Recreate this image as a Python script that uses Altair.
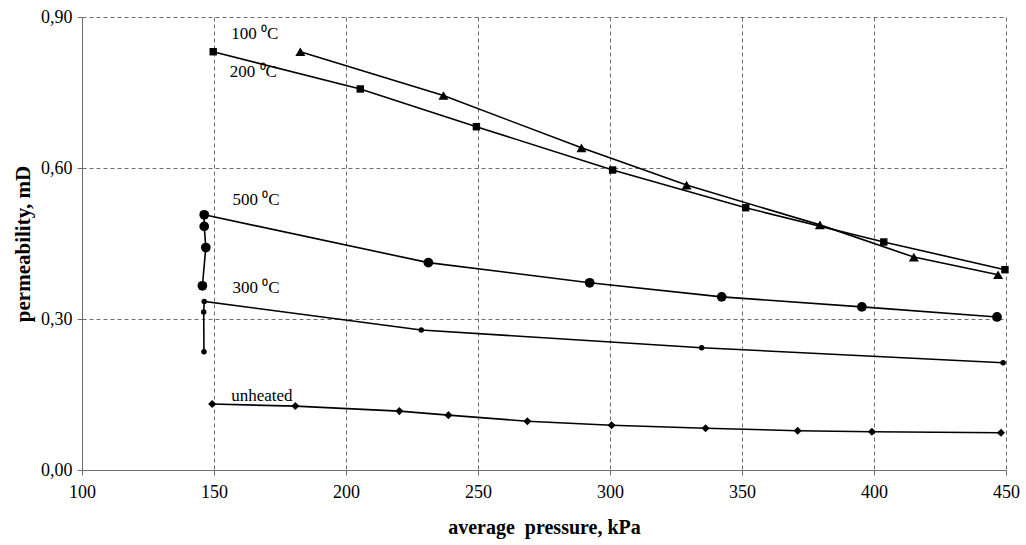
import altair as alt
import pandas as pd

# ---- data ----
s100_x = [182.7, 236.9, 289.2, 329.0, 379.5, 415.1, 447.0]
s100_y = [0.831, 0.744, 0.640, 0.566, 0.487, 0.423, 0.388]

s200_x = [149.7, 205.4, 249.4, 301.0, 351.4, 403.7, 449.6]
s200_y = [0.831, 0.757, 0.682, 0.596, 0.521, 0.453, 0.398]

s500_x = [145.6, 146.9, 146.3, 146.3, 231.2, 292.3, 342.3, 395.4, 446.6]
s500_y = [0.366, 0.442, 0.484, 0.507, 0.412, 0.372, 0.344, 0.324, 0.304]

s300_x = [146.2, 146.1, 146.3, 228.5, 334.7, 448.9]
s300_y = [0.235, 0.314, 0.335, 0.278, 0.243, 0.213]

unh_x = [149.3, 180.8, 220.2, 238.8, 268.7, 300.6, 336.2, 371.1, 399.2, 448.1]
unh_y = [0.131, 0.127, 0.117, 0.109, 0.097, 0.089, 0.083, 0.078, 0.076, 0.074]

series_names = ["100", "200", "500", "300", "unheated"]
series_shapes = ["triangle-up", "square", "circle", "circle", "diamond"]
series_sizes = [100, 55, 95, 30, 65]

label_text = ["100 \u2070C", "200 \u2070C", "500 \u2070C", "300 \u2070C", "unheated"]
label_x = [156.5, 156.0, 157.0, 157.0, 156.5]
label_y = [0.866, 0.790, 0.537, 0.362, 0.147]

x_ticks = [100, 150, 200, 250, 300, 350, 400, 450]
y_ticks = [0.0, 0.3, 0.6, 0.9]

FONT = "Liberation Serif"

xenc = alt.X("p:Q", scale=alt.Scale(domain=[100, 450], nice=False, zero=False),
             axis=alt.Axis(values=x_ticks, title="average\u00a0\u00a0pressure, kPa",
                           format="d", labelFontSize=18, titleFontSize=20,
                           titleFontWeight="bold", labelPadding=8, titlePadding=16,
                           tickSize=5, labelFlush=False))
yenc = alt.Y("k:Q", scale=alt.Scale(domain=[0, 0.9], nice=False),
             axis=alt.Axis(values=y_ticks, title="permeability, mD",
                           labelExpr="replace(format(datum.value, '.2f'), '.', ',')",
                           labelFontSize=18, titleFontSize=21, titleFontWeight="bold",
                           labelPadding=5, titlePadding=7, tickSize=5))

layers = []
for idx, (name, xs, ys) in enumerate(zip(series_names,
                                         [s100_x, s200_x, s500_x, s300_x, unh_x],
                                         [s100_y, s200_y, s500_y, s300_y, unh_y])):
    d = pd.DataFrame({"p": xs, "k": ys, "i": list(range(len(xs)))})
    base = alt.Chart(d)
    layers.append(base.mark_line(color="black", strokeWidth=1.6).encode(
        x=xenc if idx == 0 else "p:Q", y=yenc if idx == 0 else "k:Q", order="i:Q"))
    layers.append(base.mark_point(filled=True, color="black", opacity=1,
                                  shape=series_shapes[idx], size=series_sizes[idx]).encode(
        x="p:Q", y="k:Q"))

lab = pd.DataFrame({"t": label_text, "p": label_x, "k": label_y})
layers.append(alt.Chart(lab).mark_text(align="left", baseline="middle", fontSize=17,
                                       font=FONT, color="black").encode(
    x="p:Q", y="k:Q", text="t:N"))

chart = alt.layer(*layers).properties(
    width=924, height=453,
    autosize=alt.AutoSizeParams(type="none"),
    padding={"left": 82, "top": 17, "right": 20, "bottom": 75},
    background="white",
).configure_view(stroke=None).configure_axis(
    grid=True, gridColor="#6e6e6e", gridDash=[4, 3], gridWidth=1,
    domainColor="#6e6e6e", tickColor="#6e6e6e",
    labelFont=FONT, titleFont=FONT, labelColor="black", titleColor="black",
).configure_text(font=FONT)

chart.save("out.html", embed_options={"renderer": "svg", "actions": False})
